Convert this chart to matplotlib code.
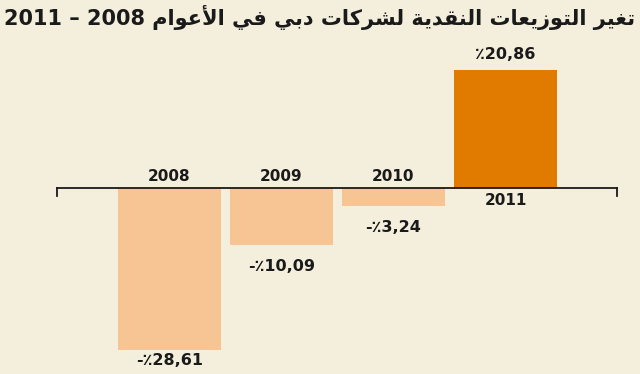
import matplotlib
matplotlib.use("Agg")
import matplotlib.pyplot as plt

# data
years = ["2008", "2009", "2010", "2011"]
values = [-28.61, -10.09, -3.24, 20.86]
value_labels = ["-٪28,61", "-٪10,09", "-٪3,24", "٪20,86"]
title_ar = "تغير التوزيعات النقدية لشركات دبي في الأعوام"
title_years = "2011 – 2008"

# minimal arabic shaping (presentation forms), matplotlib has no bidi
FORMS = {
    "ا": (0xFE8D, 0xFE8E, None, None),
    "أ": (0xFE83, 0xFE84, None, None),
    "ب": (0xFE8F, 0xFE90, 0xFE91, 0xFE92),
    "ة": (0xFE93, 0xFE94, None, None),
    "ت": (0xFE95, 0xFE96, 0xFE97, 0xFE98),
    "د": (0xFEA9, 0xFEAA, None, None),
    "ر": (0xFEAD, 0xFEAE, None, None),
    "ز": (0xFEAF, 0xFEB0, None, None),
    "ش": (0xFEB5, 0xFEB6, 0xFEB7, 0xFEB8),
    "ع": (0xFEC9, 0xFECA, 0xFECB, 0xFECC),
    "غ": (0xFECD, 0xFECE, 0xFECF, 0xFED0),
    "ف": (0xFED1, 0xFED2, 0xFED3, 0xFED4),
    "ق": (0xFED5, 0xFED6, 0xFED7, 0xFED8),
    "ك": (0xFED9, 0xFEDA, 0xFEDB, 0xFEDC),
    "ل": (0xFEDD, 0xFEDE, 0xFEDF, 0xFEE0),
    "م": (0xFEE1, 0xFEE2, 0xFEE3, 0xFEE4),
    "ن": (0xFEE5, 0xFEE6, 0xFEE7, 0xFEE8),
    "و": (0xFEED, 0xFEEE, None, None),
    "ي": (0xFEF1, 0xFEF2, 0xFEF3, 0xFEF4),
    "لا": (0xFEFB, 0xFEFC, None, None),
    "لأ": (0xFEF7, 0xFEF8, None, None),
}


def shape_word(w):
    units = []
    i = 0
    while i < len(w):
        if w[i] == "ل" and i + 1 < len(w) and w[i + 1] in "اأ":
            units.append(w[i:i + 2])
            i += 2
        else:
            units.append(w[i])
            i += 1
    out = ""
    for k, u in enumerate(units):
        f = FORMS[u]
        prev = k > 0 and FORMS[units[k - 1]][2] is not None
        nxt = k + 1 < len(units) and f[2] is not None
        if prev and nxt:
            c = f[3]
        elif prev:
            c = f[1]
        elif nxt:
            c = f[2]
        else:
            c = f[0]
        out += chr(c)
    return out


def rtl(text):
    shaped = " ".join(shape_word(w) for w in text.split(" "))
    return shaped[::-1]


bg = "#f3efdc"
neg_color = "#f7c594"
pos_color = "#e07b00"
ink = "#1a1a1a"

plt.rcParams["font.family"] = ["DejaVu Sans"]

fig = plt.figure(figsize=(6.4, 3.74), dpi=100, facecolor=bg)
ax = fig.add_axes([0, 0, 1, 1])
ax.set_facecolor(bg)

x = list(range(len(years)))
colors = [pos_color if v > 0 else neg_color for v in values]
ax.bar(x, values, width=0.92, color=colors, zorder=2)

# baseline with end ticks
ax.plot([-1.0, 4.0], [0, 0], color=ink, lw=1.3, zorder=3)
ax.plot([-1.0, -1.0], [0, -1.4], color=ink, lw=1.3, zorder=3)
ax.plot([4.0, 4.0], [0, -1.4], color=ink, lw=1.3, zorder=3)

offsets = [3, 14, 14, 8]
for i, (y, v, lab) in enumerate(zip(years, values, value_labels)):
    if v < 0:
        ax.annotate(y, (i, 0), xytext=(0, 4), textcoords="offset pixels",
                    ha="center", va="bottom", fontsize=11, fontweight="bold",
                    color=ink)
        ax.annotate(lab, (i, v), xytext=(0, -offsets[i]), textcoords="offset pixels",
                    ha="center", va="top", fontsize=11.5, fontweight="bold",
                    color=ink)
    else:
        ax.annotate(y, (i, 0), xytext=(0, -5), textcoords="offset pixels",
                    ha="center", va="top", fontsize=11, fontweight="bold",
                    color=ink)
        ax.annotate(lab, (i, v), xytext=(0, offsets[i]), textcoords="offset pixels",
                    ha="center", va="bottom", fontsize=11.5, fontweight="bold",
                    color=ink)

ax.set_xlim(-1.513, 4.201)
ax.set_ylim(-32.8, 33.16)
ax.axis("off")

fig.text(0.5, 0.952, title_years + " " + rtl(title_ar), ha="center", va="center",
         fontsize=15, fontweight="bold", color=ink)

fig.savefig("out.png", dpi=100, facecolor=bg)
